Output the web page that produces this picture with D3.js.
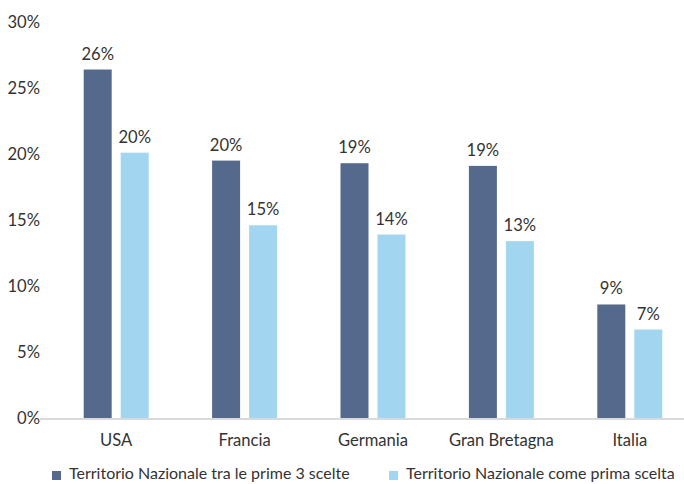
<!DOCTYPE html>
<html>

<head>
    <meta charset='utf-8'>
    <title>Territorio Nazionale</title>
    <script type='text/javascript' src='https://cdn.jsdelivr.net/npm/d3@7'></script>
    <style>
        body { margin: 0; background: #fff; }
        text { font-family: Lato, 'Noto Sans', sans-serif; fill: #333; }
    </style>
</head>

<body>
    <svg width='684' height='484'></svg>
    <script type='text/javascript'>
        const categories = ['USA', 'Francia', 'Germania', 'Gran Bretagna', 'Italia']
        const seriesNames = ['Territorio Nazionale tra le prime 3 scelte', 'Territorio Nazionale come prima scelta']
        const primeTre = [0.264, 0.195, 0.193, 0.191, 0.086]
        const primaScelta = [0.201, 0.146, 0.139, 0.134, 0.067]
        const yTicks = [0, 0.05, 0.10, 0.15, 0.20, 0.25, 0.30]
        const colors = ['#54698c', '#a1d5f0']

        const svg = d3.select('svg')
        const series = [primeTre, primaScelta]
        const fs = 16.6

        // scale
        const x = d3.scaleBand().domain(categories).range([52, 694]).paddingInner(0).paddingOuter(0)
        const y = d3.scaleLinear().domain([0, 0.30]).range([418, 22])
        const barW = 28, gap = 9

        // y labels
        svg.append('g').selectAll('text').data(yTicks)
            .enter().append('text')
            .attr('x', 40)
            .attr('y', d => y(d))
            .attr('dy', '0.35em')
            .attr('text-anchor', 'end')
            .attr('font-size', fs)
            .text(d3.format('.0%'))

        // baseline
        svg.append('line')
            .attr('x1', 40).attr('x2', 684)
            .attr('y1', y(0) + 1).attr('y2', y(0) + 1)
            .attr('stroke', '#d9d9d9')
            .attr('stroke-width', 2)

        // bars + labels
        series.forEach((vals, s) => {
            const off = s === 0 ? -(barW + gap / 2) : gap / 2
            const g = svg.append('g')
            g.selectAll('rect').data(vals)
                .enter().append('rect')
                .attr('x', (d, i) => x(categories[i]) + x.bandwidth() / 2 + off)
                .attr('y', d => y(d))
                .attr('width', barW)
                .attr('height', d => y(0) - y(d))
                .attr('fill', colors[s])
            g.selectAll('text').data(vals)
                .enter().append('text')
                .attr('x', (d, i) => x(categories[i]) + x.bandwidth() / 2 + off + barW / 2)
                .attr('y', d => y(d) - 10)
                .attr('text-anchor', 'middle')
                .attr('font-size', fs)
                .text(d => Math.round(d * 100) + '%')
        })

        // category labels
        svg.append('g').selectAll('text').data(categories)
            .enter().append('text')
            .attr('x', d => x(d) + x.bandwidth() / 2)
            .attr('y', 446)
            .attr('text-anchor', 'middle')
            .attr('font-size', fs)
            .text(d => d)

        // legend
        const legX = [52, 389]
        const leg = svg.append('g').selectAll('g').data(seriesNames)
            .enter().append('g')
            .attr('transform', (d, i) => `translate(${legX[i]},0)`)
        leg.append('rect')
            .attr('x', 0).attr('y', 471)
            .attr('width', 9).attr('height', 9)
            .attr('fill', (d, i) => colors[i])
        leg.append('text')
            .attr('x', 17).attr('y', 479)
            .attr('font-size', 16)
            .text(d => d)
    </script>
</body>

</html>
